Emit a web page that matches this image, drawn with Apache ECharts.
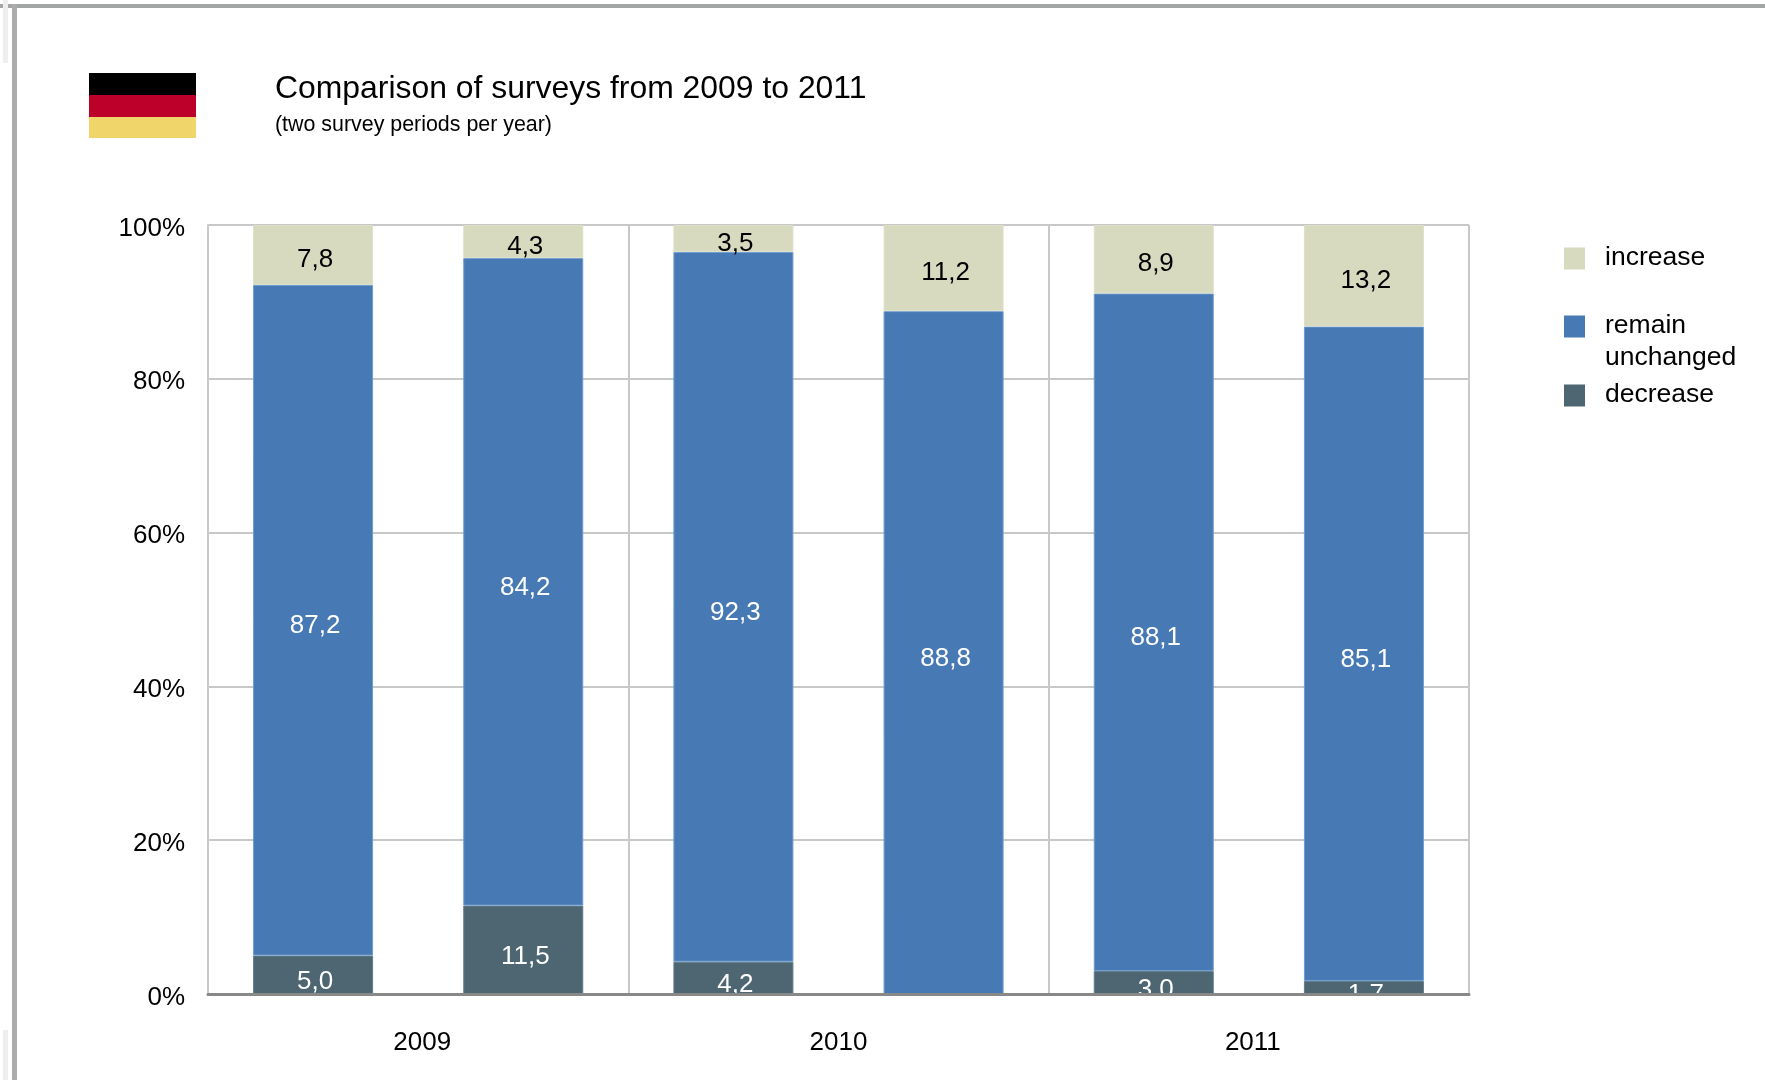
<!DOCTYPE html>
<html>
<head>
<meta charset="utf-8">
<title>Comparison of surveys from 2009 to 2011</title>
<script src="https://cdn.jsdelivr.net/npm/echarts@6/dist/echarts.min.js"></script>
<style>html,body{margin:0;padding:0;background:#fff}#c{width:1765px;height:1080px}</style>
</head>
<body>
<div id="c"></div>
<script>
const titleText = 'Comparison of surveys from 2009 to 2011';
const subtitleText = '(two survey periods per year)';
const periods = ['2009-1', '2009-2', '2010-1', '2010-2', '2011-1', '2011-2'];
const years = ['2009', '2010', '2011'];
const decreaseValues = [5.0, 11.5, 4.2, null, 3.0, 1.7];
const remainValues = [87.2, 84.2, 92.3, 88.8, 88.1, 85.1];
const increaseValues = [7.8, 4.3, 3.5, 11.2, 8.9, 13.2];
const yTicks = [0, 20, 40, 60, 80, 100];

const FONT = '"Liberation Sans", Arial, sans-serif';
const commaLabel = p => p.value > 0 ? p.value.toFixed(1).replace('.', ',') : '';
const GRID = { left: 208, right: 296, top: 225, bottom: 86 };

function barSeries(name, values, fill, edge, textColor, dy) {
  return {
    name, type: 'bar', stack: 'total', data: values, barWidth: 120, xAxisIndex: 0, z: 2,
    itemStyle: { color: fill, borderColor: edge, borderWidth: 1 },
    label: { show: true, position: 'inside', offset: [2, dy], formatter: commaLabel,
             color: textColor, fontFamily: FONT, fontSize: 26 },
    emphasis: { disabled: true }, animation: false
  };
}
function legendItem(name, top, text) {
  return {
    data: [name], orient: 'vertical', left: 1564, top, padding: 0,
    itemWidth: 21, itemHeight: 22, itemGap: 0, icon: 'rect', selectedMode: false,
    itemStyle: { borderWidth: 0 },
    formatter: () => text,
    textStyle: {
      fontFamily: FONT, fontSize: 26.5, color: '#000',
      rich: { t: { fontFamily: FONT, fontSize: 26.5, color: '#000', lineHeight: 32, padding: [0, 0, 2, 15] } }
    }
  };
}
const rect = (x, y, width, height, fill, z) => ({
  type: 'rect', silent: true, z: z === undefined ? 0 : z, shape: { x, y, width, height }, style: { fill }
});

const chart = echarts.init(document.getElementById('c'), null, { renderer: 'canvas' });
chart.setOption({
  backgroundColor: '#fff',
  animation: false,
  textStyle: { fontFamily: FONT },
  title: {
    text: titleText, subtext: subtitleText, left: 275, top: 73, padding: 0, itemGap: 10,
    textStyle: { fontFamily: FONT, fontSize: 31.9, fontWeight: 'normal', color: '#000' },
    subtextStyle: { fontFamily: FONT, fontSize: 21.4, color: '#000' }
  },
  legend: [
    legendItem('increase', 244, '{t|increase}'),
    legendItem('remain unchanged', 280, '{t| }\n{t|remain}\n{t|unchanged}'),
    legendItem('decrease', 381, '{t|decrease}')
  ],
  grid: GRID,
  xAxis: [
    { type: 'category', data: periods, position: 'bottom',
      axisLabel: { show: false }, axisTick: { show: false }, axisLine: { show: false }, splitLine: { show: false } },
    { type: 'category', data: years, position: 'bottom', z: 20,
      axisLine: { show: true, onZero: false, lineStyle: { color: '#888', width: 3 } },
      axisTick: { show: false },
      axisLabel: {
        margin: 36,
        formatter: (v, i) => '{y' + i + '|' + v + '}',
        rich: {
          y0: { fontFamily: FONT, fontSize: 26, color: '#000', padding: [0, 0, 0, 8] },
          y1: { fontFamily: FONT, fontSize: 26, color: '#000' },
          y2: { fontFamily: FONT, fontSize: 26, color: '#000', padding: [0, 12, 0, 0] }
        }
      },
      splitLine: { show: true, interval: 0, lineStyle: { color: '#C8C8C8', width: 2 } } }
  ],
  yAxis: {
    type: 'value', min: yTicks[0], max: yTicks[yTicks.length - 1], interval: yTicks[1] - yTicks[0],
    axisLine: { show: true, lineStyle: { color: '#C8C8C8', width: 2 } }, axisTick: { show: false },
    axisLabel: {
      margin: 23,
      formatter: v => '{v|' + v + '%}',
      rich: { v: { fontFamily: FONT, fontSize: 26, color: '#000', padding: [7, 0, 0, 0] } }
    },
    splitLine: { show: true, lineStyle: { color: '#C8C8C8', width: 2 } }
  },
  series: [
    barSeries('decrease', decreaseValues, '#4E6672', '#5F7C8C', '#fff', 7),
    barSeries('remain unchanged', remainValues, '#4779B4', '#6E9BD0', '#fff', 6),
    barSeries('increase', increaseValues, '#D7DABF', '#DDE0C8', '#000', 5)
  ],
  graphic: [
    rect(0, 4, 1765, 4, '#A4A6A6'),
    rect(12, 4, 5, 1076, '#ABADAD'),
    rect(3, 0, 5, 63, '#EEEEEE'),
    rect(3, 1030, 5, 50, '#EEEEEE'),
    rect(89, 73, 107, 22, '#000000'),
    rect(89, 95, 107, 22, '#BD0029'),
    rect(89, 117, 107, 21, '#F0D56B'),
    rect(207, 995, 1262, 16, '#FFFFFF', 10)
  ]
});
</script>
</body>
</html>
